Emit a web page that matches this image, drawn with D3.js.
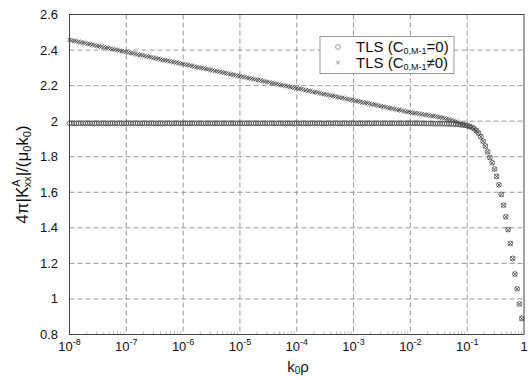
<html>
<head>
<style>
  body { margin: 0; background: #fff; }
  text { font-family: "Liberation Sans", Arial, sans-serif; fill: #111; }
  .grid line { stroke: #999; stroke-width: 1; stroke-dasharray: 5,3; }
</style>
<script src="https://cdnjs.cloudflare.com/ajax/libs/d3/7.8.5/d3.min.js"></script>
</head>
<body>
<script>
// sample positions as log10(k0*rho)
var kExp = [
  -8,-7.96,-7.92,-7.88,-7.84,-7.8,-7.76,-7.72,-7.68,-7.64,-7.6,-7.56,-7.52,-7.48,-7.44,-7.4,-7.36,-7.32,-7.28,-7.24,-7.2,-7.16,-7.12,-7.08,-7.04,
  -7,-6.96,-6.92,-6.88,-6.84,-6.8,-6.76,-6.72,-6.68,-6.64,-6.6,-6.56,-6.52,-6.48,-6.44,-6.4,-6.36,-6.32,-6.28,-6.24,-6.2,-6.16,-6.12,-6.08,-6.04,
  -6,-5.96,-5.92,-5.88,-5.84,-5.8,-5.76,-5.72,-5.68,-5.64,-5.6,-5.56,-5.52,-5.48,-5.44,-5.4,-5.36,-5.32,-5.28,-5.24,-5.2,-5.16,-5.12,-5.08,-5.04,
  -5,-4.96,-4.92,-4.88,-4.84,-4.8,-4.76,-4.72,-4.68,-4.64,-4.6,-4.56,-4.52,-4.48,-4.44,-4.4,-4.36,-4.32,-4.28,-4.24,-4.2,-4.16,-4.12,-4.08,-4.04,
  -4,-3.96,-3.92,-3.88,-3.84,-3.8,-3.76,-3.72,-3.68,-3.64,-3.6,-3.56,-3.52,-3.48,-3.44,-3.4,-3.36,-3.32,-3.28,-3.24,-3.2,-3.16,-3.12,-3.08,-3.04,
  -3,-2.96,-2.92,-2.88,-2.84,-2.8,-2.76,-2.72,-2.68,-2.64,-2.6,-2.56,-2.52,-2.48,-2.44,-2.4,-2.36,-2.32,-2.28,-2.24,-2.2,-2.16,-2.12,-2.08,-2.04,
  -2,-1.96,-1.92,-1.88,-1.84,-1.8,-1.76,-1.72,-1.68,-1.64,-1.6,-1.56,-1.52,-1.48,-1.44,-1.4,-1.36,-1.32,-1.28,-1.24,-1.2,-1.16,-1.12,-1.08,-1.04,
  -1,-0.96,-0.92,-0.88,-0.84,-0.8,-0.76,-0.72,-0.68,-0.64,-0.6,-0.56,-0.52,-0.48,-0.44,-0.4,-0.36,-0.32,-0.28,-0.24,-0.2,-0.16,-0.12,-0.08,-0.04
];

// TLS (C0,M-1 = 0)  -> circles
var tlsZero = [
  1.988,1.988,1.988,1.988,1.988,1.988,1.988,1.988,1.988,1.988,1.988,1.988,1.988,1.988,1.988,1.988,1.988,1.988,1.988,1.988,1.988,1.988,1.988,1.988,1.988,
  1.988,1.988,1.988,1.988,1.988,1.988,1.988,1.988,1.988,1.988,1.988,1.988,1.988,1.988,1.988,1.988,1.988,1.988,1.988,1.988,1.988,1.988,1.988,1.988,1.988,
  1.988,1.988,1.988,1.988,1.988,1.988,1.988,1.988,1.988,1.988,1.988,1.988,1.988,1.988,1.988,1.988,1.988,1.988,1.988,1.988,1.988,1.988,1.988,1.988,1.988,
  1.988,1.988,1.988,1.988,1.988,1.988,1.988,1.988,1.988,1.988,1.988,1.988,1.988,1.988,1.988,1.988,1.988,1.988,1.988,1.988,1.988,1.988,1.988,1.988,1.988,
  1.988,1.988,1.988,1.988,1.988,1.988,1.988,1.988,1.988,1.988,1.988,1.988,1.988,1.988,1.988,1.988,1.988,1.988,1.988,1.988,1.988,1.988,1.988,1.988,1.988,
  1.988,1.988,1.988,1.988,1.988,1.988,1.988,1.988,1.988,1.988,1.988,1.988,1.988,1.988,1.988,1.988,1.988,1.988,1.988,1.988,1.988,1.988,1.988,1.988,1.988,
  1.988,1.988,1.988,1.988,1.988,1.988,1.987,1.987,1.987,1.987,1.986,1.986,1.986,1.986,1.986,1.986,1.985,1.985,1.984,1.984,1.983,1.982,1.980,1.979,1.977,
  1.975,1.971,1.966,1.958,1.947,1.933,1.913,1.888,1.860,1.828,1.796,1.766,1.731,1.690,1.642,1.588,1.528,1.462,1.390,1.312,1.228,1.140,1.057,0.972,0.890
];

// TLS (C0,M-1 != 0) -> crosses
var tlsNonZero = [
  2.457,2.454,2.452,2.449,2.446,2.443,2.441,2.438,2.435,2.433,2.430,2.427,2.424,2.422,2.419,2.416,2.413,2.411,2.408,2.405,2.403,2.400,2.397,2.394,2.392,
  2.389,2.386,2.384,2.381,2.378,2.375,2.373,2.370,2.367,2.365,2.362,2.359,2.356,2.354,2.351,2.348,2.345,2.343,2.340,2.337,2.335,2.332,2.329,2.326,2.324,
  2.321,2.318,2.316,2.313,2.310,2.307,2.305,2.302,2.299,2.297,2.294,2.291,2.288,2.286,2.283,2.280,2.277,2.275,2.272,2.269,2.267,2.264,2.261,2.258,2.256,
  2.253,2.250,2.248,2.245,2.242,2.239,2.237,2.234,2.231,2.229,2.226,2.223,2.220,2.218,2.215,2.212,2.209,2.207,2.204,2.201,2.199,2.196,2.193,2.190,2.188,
  2.185,2.182,2.180,2.177,2.174,2.171,2.169,2.166,2.163,2.161,2.158,2.155,2.152,2.150,2.147,2.144,2.141,2.139,2.136,2.133,2.131,2.128,2.125,2.122,2.120,
  2.117,2.114,2.112,2.109,2.106,2.103,2.101,2.098,2.095,2.093,2.090,2.087,2.084,2.082,2.079,2.076,2.073,2.071,2.068,2.065,2.063,2.060,2.057,2.054,2.052,
  2.049,2.047,2.045,2.043,2.041,2.039,2.037,2.035,2.033,2.031,2.029,2.027,2.025,2.022,2.019,2.016,2.013,2.010,2.006,2.002,1.998,1.993,1.988,1.983,1.979,
  1.975,1.970,1.965,1.957,1.946,1.932,1.912,1.887,1.859,1.827,1.795,1.765,1.730,1.689,1.641,1.587,1.527,1.461,1.389,1.311,1.227,1.139,1.056,0.971,0.889
];

var xTickExp = [-8, -7, -6, -5, -4, -3, -2, -1, 0];
var yTicks = [0.8, 1, 1.2, 1.4, 1.6, 1.8, 2, 2.2, 2.4, 2.6];
var yTickLabels = ["0.8", "1", "1.2", "1.4", "1.6", "1.8", "2", "2.2", "2.4", "2.6"];

var width = 532, height = 380;
var plotLeft = 69.5, plotRight = 524, plotTop = 14.5, plotBottom = 334.5;
var markColor = "#3a3a3a";

var svg = d3.select("body").append("svg")
    .attr("width", width)
    .attr("height", height);

var x = d3.scaleLog().domain([1e-8, 1]).range([plotLeft, plotRight]);
var y = d3.scaleLinear().domain([0.8, 2.6]).range([plotBottom, plotTop]);

var points = kExp.map(function (e, i) {
    return { k: Math.pow(10, e), a: tlsZero[i], b: tlsNonZero[i] };
});

// grid
var grid = svg.append("g").attr("class", "grid");
grid.selectAll(".gx")
    .data(xTickExp.slice(1, -1))
    .enter().append("line")
    .attr("x1", d => x(Math.pow(10, d))).attr("x2", d => x(Math.pow(10, d)))
    .attr("y1", plotTop).attr("y2", plotBottom);
grid.selectAll(".gy")
    .data(yTicks.slice(1, -1))
    .enter().append("line")
    .attr("x1", plotLeft).attr("x2", plotRight)
    .attr("y1", d => y(d)).attr("y2", d => y(d));

// minor ticks on the log axis
var minor = [];
xTickExp.slice(0, -1).forEach(function (e) {
    for (var m = 2; m <= 9; m++) minor.push(m * Math.pow(10, e));
});
svg.append("g").selectAll("line")
    .data(minor)
    .enter().append("line")
    .attr("x1", d => x(d)).attr("x2", d => x(d))
    .attr("y1", plotBottom).attr("y2", plotBottom - 3)
    .attr("stroke", "#777").attr("stroke-width", 0.5);

// frame
svg.append("rect")
    .attr("x", plotLeft).attr("y", plotTop)
    .attr("width", plotRight - plotLeft).attr("height", plotBottom - plotTop)
    .attr("fill", "none")
    .attr("stroke", "#444")
    .attr("stroke-width", 1);

// x tick labels 10^n
var xl = svg.append("g").selectAll("text")
    .data(xTickExp)
    .enter().append("text")
    .attr("x", d => x(Math.pow(10, d)))
    .attr("y", 351)
    .attr("text-anchor", "middle")
    .attr("font-size", 13);
xl.each(function (d) {
    var t = d3.select(this);
    if (d === 0) { t.text("1"); return; }
    t.append("tspan").text("10");
    t.append("tspan").attr("font-size", 9).attr("dy", -6).text(d);
});

// y tick labels
svg.append("g").selectAll("text")
    .data(yTicks)
    .enter().append("text")
    .attr("x", 58)
    .attr("y", d => y(d))
    .attr("dy", "0.35em")
    .attr("text-anchor", "end")
    .attr("font-size", 13)
    .text((d, i) => yTickLabels[i]);

// axis titles
var xt = svg.append("text")
    .attr("x", 298).attr("y", 372)
    .attr("text-anchor", "middle")
    .attr("font-size", 15);
xt.append("tspan").text("k");
xt.append("tspan").attr("font-size", 10).attr("dy", 2).text("0");
xt.append("tspan").attr("dy", -2).text("\u03c1");

var yt = svg.append("text")
    .attr("transform", "translate(28," + ((plotTop + plotBottom) / 2) + ") rotate(-90)")
    .attr("text-anchor", "middle")
    .attr("font-size", 17);
yt.append("tspan").text("4\u03c0|K");
yt.append("tspan").attr("font-size", 11).attr("dy", -8).text("A");
yt.append("tspan").attr("font-size", 11).attr("dx", -8).attr("dy", 11).text("xx");
yt.append("tspan").attr("dy", -3).text("|/(\u03bc");
yt.append("tspan").attr("font-size", 11).attr("dy", 3).text("0");
yt.append("tspan").attr("dy", -3).text("k");
yt.append("tspan").attr("font-size", 11).attr("dy", 3).text("0");
yt.append("tspan").attr("dy", -3).text(")");

// markers
function cross(g, cx, cy, s, col) {
    g.append("path")
        .attr("d", "M" + (cx - s) + "," + (cy - s) + "L" + (cx + s) + "," + (cy + s) +
                   "M" + (cx - s) + "," + (cy + s) + "L" + (cx + s) + "," + (cy - s))
        .attr("stroke", col).attr("stroke-width", 0.8).attr("fill", "none");
}

svg.append("g").selectAll("circle")
    .data(points.filter(p => p.a >= 0.8))
    .enter().append("circle")
    .attr("cx", d => x(d.k))
    .attr("cy", d => y(d.a))
    .attr("r", 2.4)
    .attr("fill", "none")
    .attr("stroke", markColor)
    .attr("stroke-width", 0.7);

var xg = svg.append("g");
points.filter(p => p.b >= 0.8).forEach(function (p) {
    cross(xg, x(p.k), y(p.b), 2.2, markColor);
});

// legend
var lg = svg.append("g");
lg.append("rect")
    .attr("x", 320).attr("y", 36.5)
    .attr("width", 134).attr("height", 37)
    .attr("fill", "#fff").attr("stroke", "#999").attr("stroke-width", 1);
lg.append("circle")
    .attr("cx", 338).attr("cy", 47)
    .attr("r", 2.4).attr("fill", "none")
    .attr("stroke", "#777").attr("stroke-width", 0.7);
cross(lg, 338, 62.5, 2, "#777");

function legendText(yPos, rel) {
    var t = lg.append("text")
        .attr("x", 356).attr("y", yPos)
        .attr("font-size", 15);
    t.append("tspan").text("TLS (C");
    t.append("tspan").attr("font-size", 9).attr("dy", 2).text("0,M-1");
    t.append("tspan").attr("dy", -2).text(rel + "0)");
}
legendText(52, "=");
legendText(67.5, "\u2260");
</script>
</body>
</html>
